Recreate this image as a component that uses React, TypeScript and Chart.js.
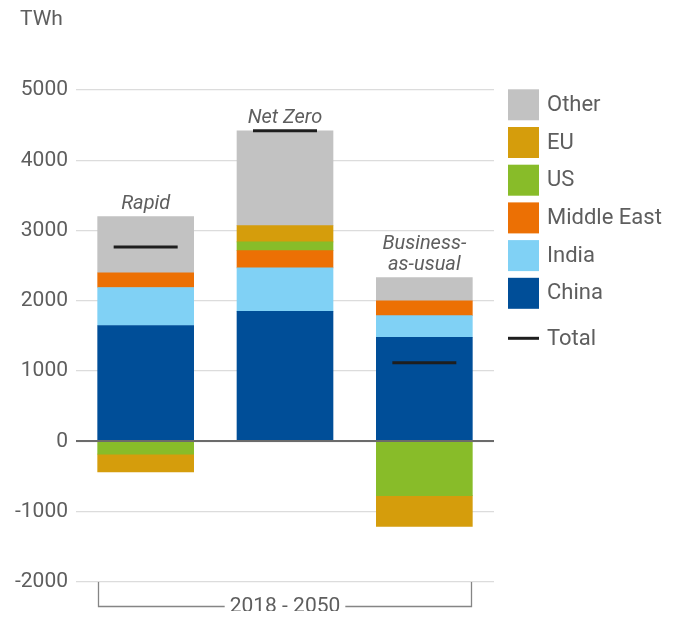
import React, { useEffect, useRef } from "react";
import { Chart, registerables } from "chart.js";

Chart.register(...registerables);

const categories = ["Rapid", "Net Zero", "Business-as-usual"];
const barLabels = [["Rapid"], ["Net Zero"], ["Business-", "as-usual"]];
const china = [1650, 1850, 1480];
const india = [540, 620, 310];
const middleEast = [210, 245, 210];
const us = [-180, 125, -770];
const eu = [-255, 230, -440];
const other = [800, 1350, 330];
const total = [2765, 4420, 1120];
const yTicks = [-2000, -1000, 0, 1000, 2000, 3000, 4000, 5000];
const periodLabel = "2018 - 2050";
const unitLabel = "TWh";

const seriesNames = ["China", "India", "Middle East", "US", "EU", "Other"];
const seriesData = [china, india, middleEast, us, eu, other];
const seriesColors = ["#004e98", "#80d1f5", "#ec7004", "#88bc29", "#d59d0c", "#c2c2c2"];
const totalColor = "#1e1e1e";
const textColor = "#5e5e5e";
const FONT = "Roboto, 'Noto Sans', sans-serif";

const overlayPlugin = {
  id: "overlay",
  afterDatasetsDraw(chart: any) {
    const ctx = chart.ctx;
    const y = chart.scales.y;
    const area = chart.chartArea;
    ctx.save();
    // zero line
    const y0 = Math.round(y.getPixelForValue(0));
    ctx.strokeStyle = "#6b6b6b";
    ctx.lineWidth = 2;
    ctx.beginPath();
    ctx.moveTo(area.left, y0);
    ctx.lineTo(area.right, y0);
    ctx.stroke();

    // bar labels
    const meta = chart.getDatasetMeta(1);
    ctx.fillStyle = textColor;
    ctx.font = `italic 20px ${FONT}`;
    ctx.textAlign = "center";
    ctx.textBaseline = "alphabetic";
    categories.forEach((_, i) => {
      let pos = 0;
      seriesData.forEach((s) => {
        if (s[i] > 0) pos += s[i];
      });
      const el = meta.data[i];
      const top = y.getPixelForValue(pos);
      const lines = barLabels[i];
      lines.forEach((line, k) => {
        const base = top - 8 - (lines.length - 1 - k) * 20.5;
        ctx.fillText(line, el.x, base);
      });
    });

    // bracket
    const first = meta.data[0];
    const last = meta.data[meta.data.length - 1];
    const mid = meta.data[1];
    const lx = Math.round(first.x - first.width / 2) + 0.5;
    const rx = Math.round(last.x + last.width / 2) - 0.5;
    const by = 598.5;
    ctx.font = `21px ${FONT}`;
    const tw = ctx.measureText(periodLabel).width;
    ctx.strokeStyle = "#858585";
    ctx.lineWidth = 1.3;
    ctx.beginPath();
    ctx.moveTo(lx, area.bottom);
    ctx.lineTo(lx, by);
    ctx.lineTo(mid.x - tw / 2 - 5, by);
    ctx.moveTo(mid.x + tw / 2 + 5, by);
    ctx.lineTo(rx, by);
    ctx.lineTo(rx, area.bottom);
    ctx.stroke();
    ctx.fillStyle = textColor;
    ctx.textBaseline = "middle";
    ctx.fillText(periodLabel, mid.x, by);

    // unit
    ctx.textAlign = "left";
    ctx.textBaseline = "alphabetic";
    ctx.font = `21px ${FONT}`;
    ctx.fillText(unitLabel, 12, 17);

    // legend
    ctx.font = `22px ${FONT}`;
    ctx.textBaseline = "middle";
    const order = [5, 4, 3, 2, 1, 0];
    order.forEach((si, r) => {
      const top = 81.3 + r * 37.7;
      ctx.fillStyle = seriesColors[si];
      ctx.fillRect(500, top, 31, 31);
      ctx.fillStyle = textColor;
      ctx.fillText(seriesNames[si], 539, top + 16);
    });
    ctx.strokeStyle = totalColor;
    ctx.lineWidth = 3;
    ctx.beginPath();
    ctx.moveTo(500, 330.3);
    ctx.lineTo(531, 330.3);
    ctx.stroke();
    ctx.fillStyle = textColor;
    ctx.fillText("Total", 539, 331);
    ctx.restore();
  },
};

export default function App() {
  const ref = useRef<HTMLCanvasElement>(null);
  useEffect(() => {
    if (!ref.current) return;
    const datasets: any[] = [
      {
        type: "line",
        label: "Total",
        data: total,
        showLine: false,
        pointStyle: "line",
        pointRadius: 32,
        pointHoverRadius: 32,
        borderWidth: 3,
        pointBorderWidth: 3,
        borderColor: totalColor,
        backgroundColor: totalColor,
        stack: "total",
        order: -1,
      },
      ...seriesNames.map((name, i) => ({
        type: "bar",
        label: name,
        data: seriesData[i],
        backgroundColor: seriesColors[i],
        borderWidth: 0,
        barThickness: 96,
        stack: "a",
        order: 1,
      })),
    ];
    const chart = new Chart(ref.current, {
      type: "bar",
      data: { labels: categories, datasets },
      options: {
        responsive: false,
        animation: false,
        devicePixelRatio: 1,
        layout: { padding: { top: 82, bottom: 29, right: 176, left: 0 } },
        plugins: { legend: { display: false }, tooltip: { enabled: false } },
        scales: {
          x: { type: "category", stacked: true, display: false, offset: true },
          y: {
            stacked: true,
            min: -2000,
            max: 5000,
            afterFit(scale: any) {
              scale.width = 68;
            },
            afterBuildTicks(scale: any) {
              scale.ticks = yTicks.map((v) => ({ value: v }));
            },
            border: { display: false },
            grid: {
              drawTicks: false,
              color: "#dcdcdc",
              lineWidth: 1.3,
            },
            ticks: {
              padding: 8,
              color: textColor,
              font: { family: FONT, size: 21 },
              callback: (v: any) => String(v),
            },
          },
        },
      },
      plugins: [overlayPlugin],
    } as any);
    // the wide "line" point markers should not reserve layout space
    const ctrl: any = chart.getDatasetMeta(0).controller;
    ctrl.getMaxOverflow = () => 0;
    chart.update();
    return () => chart.destroy();
  }, []);
  return (
    <div style={{ width: 662, height: 603, position: "relative" }}>
      <canvas ref={ref} width={662} height={603} style={{ display: "block" }} />
    </div>
  );
}
